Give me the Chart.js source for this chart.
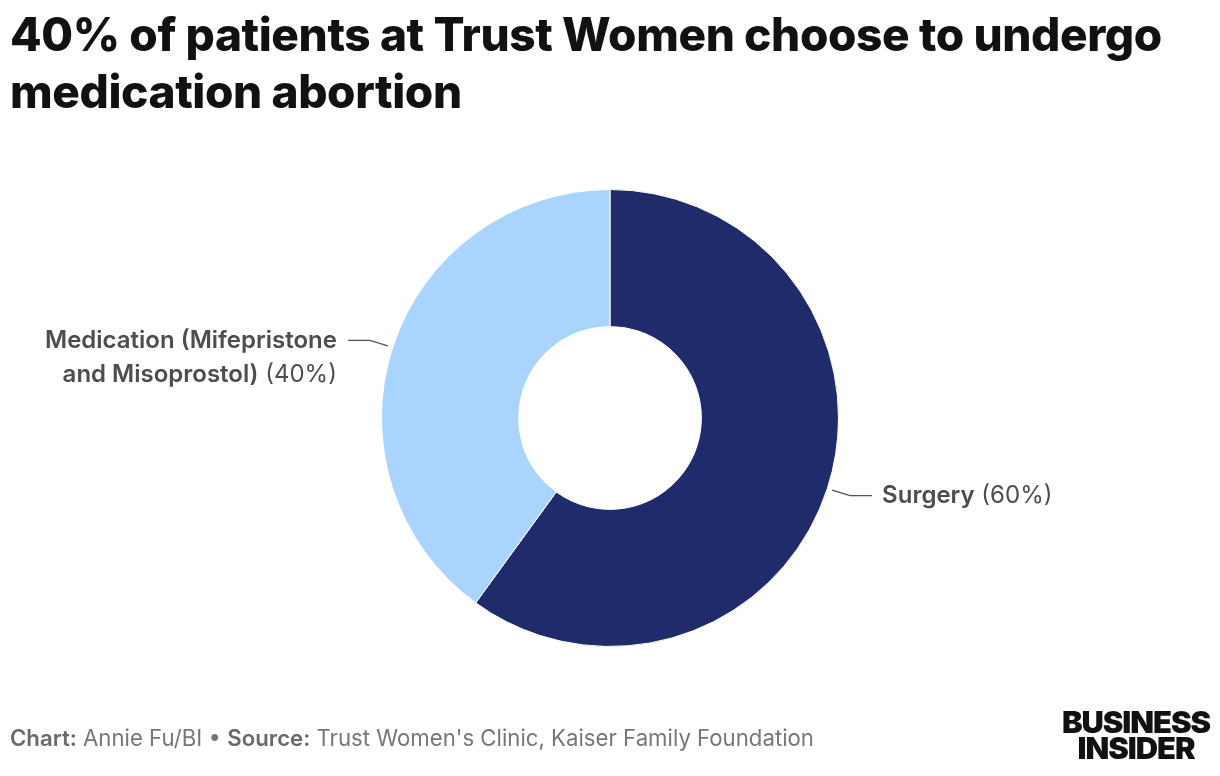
<!DOCTYPE html>
<html>
<head>
<meta charset="utf-8">
<script src="https://cdn.jsdelivr.net/npm/chart.js@4.4.1/dist/chart.umd.min.js"></script>
<style>
  html, body { margin: 0; padding: 0; background: #fff; }
  body { width: 1220px; height: 776px; position: relative; overflow: hidden; font-family: Inter, "Noto Sans", sans-serif; }
  #title { position: absolute; left: 10px; top: 6px; font-size: 46px; font-weight: 800; line-height: 57px; color: #111; letter-spacing: -0.4px; white-space: nowrap; }
  #footer { position: absolute; left: 10px; top: 724px; font-size: 22.2px; color: #777; white-space: nowrap; }
  #footer b { font-weight: 600; color: #6a6a6a; }
  #logo { position: absolute; left: 1061px; top: 709px; width: 150px; font-weight: 900; color: #111; font-size: 30px; line-height: 26px; text-align: center; letter-spacing: -1px; }
  #logo div { transform: scaleX(1.03); transform-origin: center; }
  #wrap { position: absolute; left: 0; top: 0; width: 1220px; height: 776px; }
</style>
</head>
<body>
<div id="wrap"><canvas id="c" width="1220" height="776"></canvas></div>
<div id="title">40% of patients at Trust Women choose to undergo<br>medication abortion</div>
<div id="footer"><b>Chart:</b> Annie Fu/BI • <b>Source:</b> Trust Women's Clinic, Kaiser Family Foundation</div>
<div id="logo"><div>BUSINESS</div><div>INSIDER</div></div>
<script>
// ---- data ----
const categories = ['Surgery', 'Medication (Mifepristone and Misoprostol)'];
const values = [60, 40];
const labelBold = [['Surgery'], ['Medication (Mifepristone', 'and Misoprostol)']];
const labelValue = [['(60%)'], ['', '(40%)']];
const colors = ['#1f2b6b', '#a9d4fe'];

const labelPlugin = {
  id: 'sliceLabels',
  afterDatasetsDraw(chart) {
    const ctx = chart.ctx;
    const meta = chart.getDatasetMeta(0);
    const boldFont = '600 24px Inter, "Noto Sans", sans-serif';
    const regFont = '400 24px Inter, "Noto Sans", sans-serif';
    const lineH = 34;
    meta.data.forEach((arc, i) => {
      const p = arc.getProps(['x', 'y', 'startAngle', 'endAngle', 'outerRadius'], true);
      const mid = (p.startAngle + p.endAngle) / 2;
      const dx = Math.cos(mid), dy = Math.sin(mid);
      const right = dx >= 0;
      const r0 = p.outerRadius + 5;
      const x0 = p.x + dx * r0, y0 = p.y + dy * r0;
      const x1 = x0 + (right ? 18 : -18), y1 = y0 + dy * 18;
      const x2 = x1 + (right ? 22 : -22);
      ctx.save();
      ctx.strokeStyle = '#555';
      ctx.lineWidth = 1.3;
      ctx.beginPath();
      ctx.moveTo(x0, y0); ctx.lineTo(x1, y1); ctx.lineTo(x2, y1);
      ctx.stroke();
      ctx.fillStyle = '#4d4d4d';
      ctx.textBaseline = 'middle';
      ctx.textAlign = 'left';
      const tx = x2 + (right ? 10 : -11);
      labelBold[i].forEach((b, k) => {
        const v = labelValue[i][k];
        ctx.font = boldFont;
        const wb = ctx.measureText(b).width;
        ctx.font = regFont;
        const sp = v ? ctx.measureText(' ').width : 0;
        const wv = v ? ctx.measureText(v).width : 0;
        const total = wb + sp + wv;
        const sx = right ? tx : tx - total;
        const ly = y1 + k * lineH;
        ctx.font = boldFont;
        ctx.fillText(b, sx, ly);
        if (v) { ctx.font = regFont; ctx.fillText(v, sx + wb + sp, ly); }
      });
      ctx.restore();
    });
  }
};

new Chart(document.getElementById('c'), {
  type: 'doughnut',
  data: {
    labels: categories,
    datasets: [{ data: values, backgroundColor: colors, borderColor: '#ffffff', borderWidth: 1, hoverOffset: 0 }]
  },
  options: {
    responsive: false,
    animation: false,
    cutout: '40%',
    layout: { padding: { top: 189, bottom: 129, left: 300, right: 300 } },
    plugins: { legend: { display: false }, tooltip: { enabled: false }, title: { display: false } }
  },
  plugins: [labelPlugin]
});
</script>
</body>
</html>
